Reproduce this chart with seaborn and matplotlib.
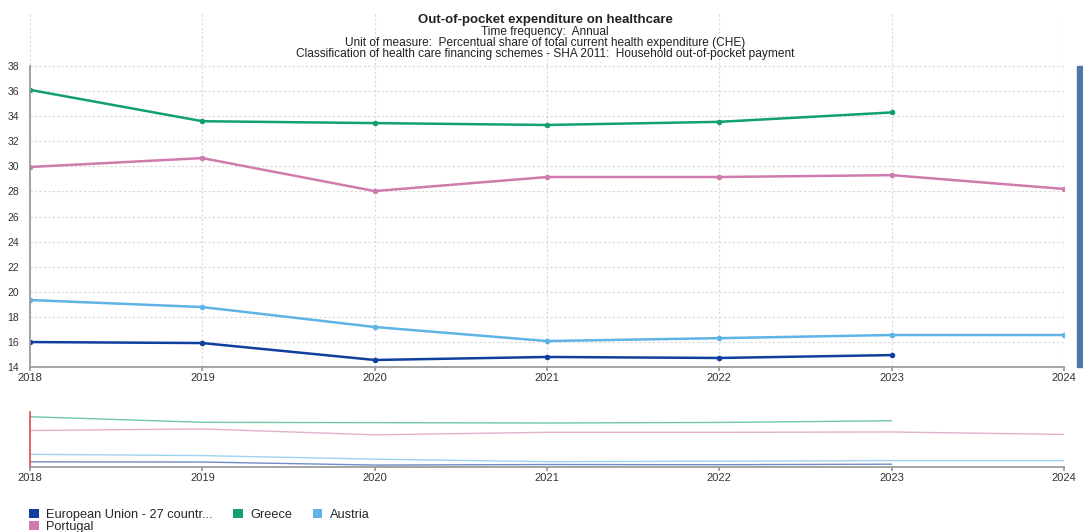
import matplotlib
matplotlib.use("Agg")
import matplotlib.pyplot as plt
from matplotlib.patches import Rectangle, Patch
import seaborn as sns
import pandas as pd

years = [2018, 2019, 2020, 2021, 2022, 2023, 2024]
eu = [15.99, 15.91, 14.56, 14.8, 14.72, 14.95, None]
greece = [36.1, 33.6, 33.45, 33.3, 33.55, 34.3, None]
austria = [19.34, 18.78, 17.19, 16.07, 16.3, 16.55, 16.55]
portugal = [29.95, 30.66, 28.03, 29.15, 29.15, 29.3, 28.2]

series_names = ["European Union - 27 countr...", "Greece", "Austria", "Portugal"]
series_values = [eu, greece, austria, portugal]
colors = ["#0f3f9f", "#12a073", "#5fb3e6", "#d07bad"]

title = "Out-of-pocket expenditure on healthcare"
subtitles = ["Time frequency:  Annual",
             "Unit of measure:  Percentual share of total current health expenditure (CHE)",
             "Classification of health care financing schemes - SHA 2011:  Household out-of-pocket payment"]
yticks = list(range(14, 39, 2))

rows = []
for name, vals in zip(series_names, series_values):
    for y, v in zip(years, vals):
        if v is not None:
            rows.append({"year": y, "value": v, "series": name})
df = pd.DataFrame(rows)
palette = dict(zip(series_names, colors))

sns.set_theme(style="white")
plt.rcParams["font.family"] = ["Liberation Sans", "DejaVu Sans"]

W, H = 1083, 532
fig = plt.figure(figsize=(W / 100, H / 100), dpi=100)

def fx(px):
    return px / W

def fy(py):
    return 1 - py / H

ax = fig.add_axes([fx(30), fy(367), fx(1064) - fx(30), fy(14) - fy(367)])
sns.lineplot(data=df, x="year", y="value", hue="series", palette=palette,
             marker="o", markersize=4, markeredgewidth=0, linewidth=1.8,
             legend=False, ax=ax)
ax.set_xlim(2018, 2024)
ax.set_ylim(14, 14 + 353 / 12.54)
ax.set_yticks(yticks)
ax.set_xticks(years)
ax.set_xticklabels([str(y) for y in years])
ax.set_xlabel("")
ax.set_ylabel("")
ax.grid(True, color="#d9d9d9", linestyle=(0, (2, 2)), linewidth=0.8)
ax.set_axisbelow(True)
for s in ["top", "right"]:
    ax.spines[s].set_visible(False)
ax.spines["left"].set_bounds(14, 38)
ax.spines["left"].set_color("#999999")
ax.spines["bottom"].set_color("#999999")
ax.tick_params(axis="y", length=0, pad=8, labelsize=7.5, colors="#333333")
ax.tick_params(axis="x", length=3, color="#999999", pad=1, labelsize=8, labelcolor="#333333", bottom=True)

# navigator
nav = fig.add_axes([fx(30), fy(467), fx(1064) - fx(30), fy(412) - fy(467)])
sns.lineplot(data=df, x="year", y="value", hue="series", palette=palette,
             linewidth=1.0, alpha=0.6, legend=False, ax=nav)
nav.set_xlim(2018, 2024)
nav.set_ylim(13.7, 38.2)
nav.set_yticks([])
nav.set_xticks(years)
nav.set_xticklabels([str(y) for y in years])
nav.set_xlabel("")
nav.set_ylabel("")
for s in ["top", "right"]:
    nav.spines[s].set_visible(False)
nav.spines["left"].set_color("#e04a4a")
nav.spines["left"].set_linewidth(1.2)
nav.spines["bottom"].set_color("#999999")
nav.tick_params(axis="x", length=3, color="#999999", pad=1, labelsize=8, labelcolor="#333333", bottom=True)

# titles
fig.text(fx(545), fy(20), title, ha="center", va="center", fontsize=9.5, fontweight="bold", color="#222222")
for i, t in enumerate(subtitles):
    fig.text(fx(545), fy(32 + 11 * i), t, ha="center", va="center", fontsize=8.6, color="#222222")

# scrollbar
fig.patches.append(Rectangle((fx(1077), fy(367)), fx(6), fy(66) - fy(367),
                             transform=fig.transFigure, color="#4a78a8"))

# legend (row-major order)
handles = [Patch(facecolor=c, edgecolor="none") for c in colors]
order = [0, 3, 1, 2]
leg = fig.legend([handles[i] for i in order], [series_names[i] for i in order],
                 loc="upper left", bbox_to_anchor=(fx(29), fy(509)), ncol=3,
                 frameon=False, fontsize=9.2, handlelength=0.75, handleheight=0.75,
                 handletextpad=0.6, columnspacing=1.6, labelspacing=-0.02,
                 borderpad=0, borderaxespad=0)

fig.savefig("out.png", dpi=100)
